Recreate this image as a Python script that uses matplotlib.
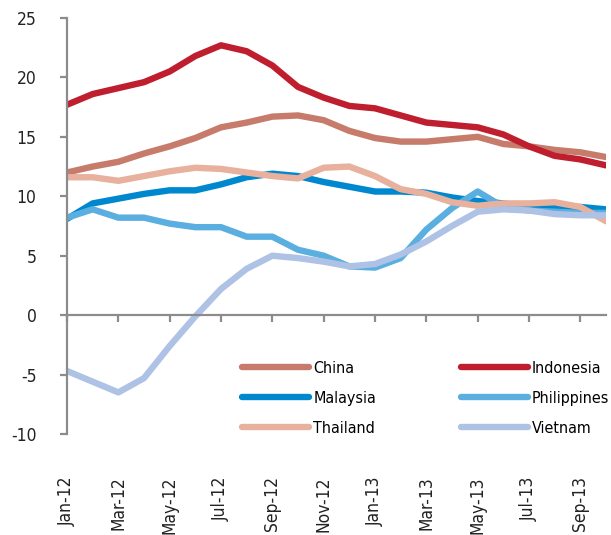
import matplotlib
matplotlib.use("Agg")
import matplotlib.pyplot as plt

# monthly values, Jan-12 .. Oct-13
months = ["Jan-12", "Feb-12", "Mar-12", "Apr-12", "May-12", "Jun-12", "Jul-12", "Aug-12",
          "Sep-12", "Oct-12", "Nov-12", "Dec-12", "Jan-13", "Feb-13", "Mar-13", "Apr-13",
          "May-13", "Jun-13", "Jul-13", "Aug-13", "Sep-13", "Oct-13"]
china = [12.0, 12.5, 12.9, 13.6, 14.2, 14.9, 15.8, 16.2, 16.7, 16.8, 16.4, 15.5,
         14.9, 14.6, 14.6, 14.8, 15.0, 14.4, 14.2, 13.9, 13.7, 13.3]
indonesia = [17.7, 18.6, 19.1, 19.6, 20.5, 21.8, 22.7, 22.2, 21.0, 19.2, 18.3, 17.6,
             17.4, 16.8, 16.2, 16.0, 15.8, 15.2, 14.2, 13.4, 13.1, 12.6]
malaysia = [8.1, 9.4, 9.8, 10.2, 10.5, 10.5, 11.0, 11.6, 11.9, 11.7, 11.2, 10.8,
            10.4, 10.4, 10.3, 9.9, 9.6, 9.4, 9.1, 9.1, 9.1, 8.9]
philippines = [8.2, 8.9, 8.2, 8.2, 7.7, 7.4, 7.4, 6.6, 6.6, 5.5, 5.0, 4.1,
               4.0, 4.8, 7.2, 9.0, 10.4, 9.1, 8.8, 8.7, 8.6, 8.6]
thailand = [11.6, 11.6, 11.3, 11.7, 12.1, 12.4, 12.3, 12.0, 11.7, 11.5, 12.4, 12.5,
            11.7, 10.6, 10.2, 9.5, 9.2, 9.4, 9.4, 9.5, 9.1, 7.9]
vietnam = [-4.7, -5.6, -6.5, -5.3, -2.6, -0.1, 2.2, 3.9, 5.0, 4.8, 4.5, 4.1,
           4.3, 5.1, 6.2, 7.5, 8.7, 8.9, 8.8, 8.5, 8.4, 8.4]

series = [("China", china, "#C77B6B"), ("Indonesia", indonesia, "#BE1E2D"),
          ("Malaysia", malaysia, "#0088CF"), ("Philippines", philippines, "#5BAEE0"),
          ("Thailand", thailand, "#E8B19D"), ("Vietnam", vietnam, "#AEC2E5")]

AXIS = "#8C8C8C"
FS = 12.5
LFS = 11.5
plt.rcParams.update({"font.family": ["DejaVu Sans"], "font.stretch": "condensed",
                     "axes.unicode_minus": False})

fig = plt.figure(figsize=(6.11, 5.35), dpi=100)
ax = fig.add_axes([0.1097, 0.1888, 0.8821, 0.7776])
x = list(range(len(months)))
lines = {}
for name, vals, col in series:
    lines[name], = ax.plot(x, vals, color=col, lw=4.6, label=name, solid_capstyle="round",
                           solid_joinstyle="round")

ax.set_xlim(0, 21)
ax.set_ylim(-10, 25)
ax.set_yticks(range(-10, 26, 5))
ax.set_xticks(x[::2], months[::2])
for s in ["top", "right"]:
    ax.spines[s].set_visible(False)
ax.spines["bottom"].set_position(("data", 0))
for s in ["left", "bottom"]:
    ax.spines[s].set_color(AXIS); ax.spines[s].set_linewidth(1.6)
ax.tick_params(axis="y", direction="out", length=5, width=1.6, color=AXIS,
               labelsize=FS, pad=17, labelcolor="#222222")
ax.tick_params(axis="x", direction="out", length=5, width=1.6, color=AXIS,
               labelsize=FS, pad=111, labelcolor="#222222", labelrotation=90)
for t in ax.get_xticklabels():
    t.set_verticalalignment("top"); t.set_horizontalalignment("center")

# row-major legend order, as in the original
order = ["China", "Malaysia", "Thailand", "Indonesia", "Philippines", "Vietnam"]
ax.legend([lines[n] for n in order], order, ncol=2, loc="upper left",
          bbox_to_anchor=(0.325, 0.176), frameon=False,
          fontsize=LFS, handlelength=4.2, handletextpad=0.25, columnspacing=5.3,
          labelspacing=0.94, borderpad=0, borderaxespad=0)

fig.savefig("out.png", dpi=100, facecolor="white")
